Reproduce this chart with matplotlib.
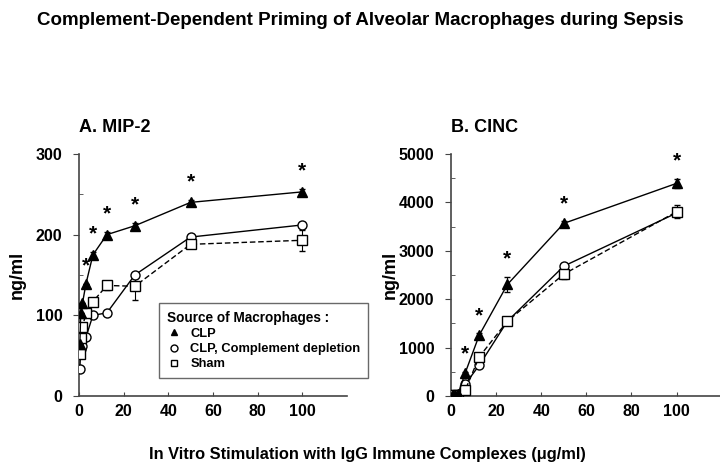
import matplotlib
matplotlib.use("Agg")
import matplotlib.pyplot as plt
from matplotlib.ticker import MultipleLocator

plt.rcParams['font.family'] = ['Liberation Sans', 'DejaVu Sans']
plt.rcParams['font.weight'] = 'bold'

# IgG immune complex dose (ug/ml)
dose = [0.39, 0.78, 1.56, 3.125, 6.25, 12.5, 25, 50, 100]

# A. MIP-2 (ng/ml)
mip_clp = [65, 103, 115, 139, 175, 200, 211, 240, 253]
mip_clp_err = [0, 0, 0, 0, 4, 3, 4, 3, 4]
mip_dep = [34, 58, 62, 73, 100, 103, 150, 197, 212]
mip_dep_err = [0, 0, 0, 0, 0, 0, 3, 4, 4]
mip_sham = [52, 72, 85, 103, 117, 137, 136, 188, 193]
mip_sham_err = [0, 0, 0, 0, 0, 6, 17, 3, 13]
mip_stars = [3.125, 6.25, 12.5, 25, 50, 100]

# B. CINC (ng/ml)
cinc_clp = [5, 10, 20, 40, 470, 1255, 2304, 3566, 4393]
cinc_clp_err = [0, 0, 0, 0, 30, 40, 160, 40, 100]
cinc_dep = [5, 10, 15, 30, 241, 634, 1545, 2683, 3780]
cinc_dep_err = [0, 0, 0, 0, 0, 0, 0, 40, 0]
cinc_sham = [5, 10, 20, 30, 117, 807, 1545, 2517, 3807]
cinc_sham_err = [40, 40, 40, 0, 0, 40, 0, 110, 140]
cinc_stars = [6.25, 12.5, 25, 50, 100]

fig = plt.figure(figsize=(7.2, 4.69), dpi=100)
axA = fig.add_axes([0.1097, 0.1557, 0.372, 0.516])
axB = fig.add_axes([0.6264, 0.1557, 0.376, 0.516])


def panel(ax, clp, clp_err, dep, dep_err, sham, sham_err, stars, ymax, ystep):
    ax.errorbar(dose, clp, yerr=clp_err, color='black', marker='^', ms=7,
                mfc='black', lw=1, capsize=2, elinewidth=0.8, zorder=4)
    ax.errorbar(dose, dep, yerr=dep_err, color='black', marker='o', ms=6.5,
                mfc='white', lw=1, capsize=2, elinewidth=0.8, zorder=3)
    ax.errorbar(dose, sham, yerr=sham_err, color='black', marker='s', ms=6.5,
                mfc='white', lw=1, ls='--', dashes=(4, 2), capsize=2,
                elinewidth=0.8, zorder=3)
    # significance stars above the CLP points
    for x in stars:
        i = dose.index(x)
        ax.annotate('*', (x, clp[i] + clp_err[i]), xytext=(0, 6),
                    textcoords='offset points', ha='center', va='bottom',
                    fontsize=15, fontweight='bold')
    ax.set_xlim(0, 120)
    ax.set_ylim(0, ymax)
    ax.set_xticks([0, 20, 40, 60, 80, 100])
    ax.yaxis.set_major_locator(MultipleLocator(ystep))
    ax.yaxis.set_minor_locator(MultipleLocator(ystep / 2))
    ax.spines['top'].set_visible(False)
    ax.spines['right'].set_visible(False)
    for s in ('left', 'bottom'):
        ax.spines[s].set_color('#444444')
        ax.spines[s].set_linewidth(1.2)
    ax.tick_params(axis='y', which='major', direction='out', length=4, pad=8,
                   labelsize=11.5, color='#444444')
    ax.tick_params(axis='y', which='minor', direction='in', length=3,
                   color='#444444')
    ax.tick_params(axis='x', which='major', direction='in', length=3, pad=6,
                   labelsize=11.5, color='#444444')
    for lab in ax.get_xticklabels() + ax.get_yticklabels():
        lab.set_fontweight('bold')
    ax.set_ylabel('ng/ml', fontsize=13, fontweight='bold')


panel(axA, mip_clp, mip_clp_err, mip_dep, mip_dep_err, mip_sham,
      mip_sham_err, mip_stars, 300, 100)
panel(axB, cinc_clp, cinc_clp_err, cinc_dep, cinc_dep_err, cinc_sham,
      cinc_sham_err, cinc_stars, 5000, 1000)
axA.yaxis.set_label_coords(-0.20, 0.5)
axB.yaxis.set_label_coords(-0.192, 0.5)

axA.set_title('A. MIP-2', loc='left', fontsize=13, fontweight='bold', pad=16)
axB.set_title('B. CINC', loc='left', fontsize=13, fontweight='bold', pad=16)

handles = [plt.Line2D([], [], ls='none', marker='^', ms=5, color='black', mfc='black'),
           plt.Line2D([], [], ls='none', marker='o', ms=5, color='black', mfc='white'),
           plt.Line2D([], [], ls='none', marker='s', ms=5, color='black', mfc='white')]
leg = axA.legend(handles, ['CLP', 'CLP, Complement depletion', 'Sham'],
                 title='Source of Macrophages :', loc='lower left',
                 bbox_to_anchor=(0.30, 0.074), borderaxespad=0, frameon=True,
                 fancybox=False, edgecolor='#444444', fontsize=9.3,
                 title_fontsize=9.8, handlelength=1.0, handletextpad=0.8,
                 borderpad=0.6, labelspacing=0.25, alignment='left')
leg.get_frame().set_linewidth(1.0)
for t in leg.get_texts():
    t.set_fontweight('bold')
leg.get_title().set_fontweight('bold')

fig.suptitle('Complement-Dependent Priming of Alveolar Macrophages during Sepsis',
             x=0.5, y=0.975, fontsize=13.5, fontweight='bold')
fig.text(0.51, 0.03, 'In Vitro Stimulation with IgG Immune Complexes (\u03bcg/ml)',
         ha='center', va='center', fontsize=11.8, fontweight='bold')

fig.savefig('out.png', dpi=100)
